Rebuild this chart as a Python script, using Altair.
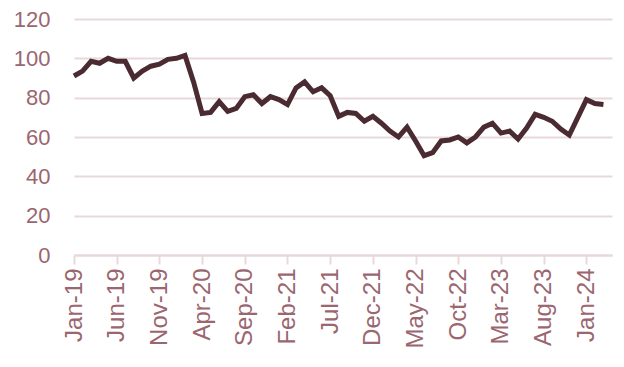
import altair as alt
import pandas as pd

months = ["Jan", "Feb", "Mar", "Apr", "May", "Jun", "Jul", "Aug", "Sep", "Oct", "Nov", "Dec"]
labels = [f"{m}-{y}" for y in ["19", "20", "21", "22", "23", "24"] for m in months][:63]

values = [
    91, 93.5, 98.5, 97.5, 100, 98.5, 98.5, 90, 93.5, 96, 97, 99.5,
    100, 101.5, 88, 72, 72.5, 78, 73, 74.5, 80.5, 81.5, 77, 80.5,
    79, 76.5, 85, 88, 83, 85, 81, 70.5, 72.5, 72, 68, 70.5,
    67, 63, 60, 65, 58, 50.5, 52, 58, 58.5, 60, 57, 60,
    65, 67, 62, 63, 59, 64.5, 71.5, 70, 68, 64, 61, 70,
    79, 77, 76.5,
]
y_ticks = [0, 20, 40, 60, 80, 100, 120]
x_tick_idx = list(range(0, 61, 5))

df = pd.DataFrame({"idx": list(range(len(values))), "label": labels, "value": values})

label_arr = "[" + ",".join(f"'{l}'" for l in labels) + "]"

label_color = "#9a6670"
grid_color = "#e8d8dc"
font = "Liberation Sans"

chart = alt.Chart(df).mark_line(color="#4a2b31", strokeWidth=5, strokeJoin="miter").encode(
    x=alt.X("idx:Q",
            scale=alt.Scale(domain=[0, 63], nice=False, zero=False),
            axis=alt.Axis(values=x_tick_idx, labelExpr=f"{label_arr}[datum.value]",
                          labelAngle=270, labelAlign="right", labelBaseline="middle",
                          labelFontSize=24, labelColor=label_color, labelFont=font,
                          labelPadding=4, tickSize=9, tickColor=grid_color, tickWidth=2,
                          domainColor=grid_color, domainWidth=2, grid=False, title=None,
                          labelOverlap=False)),
    y=alt.Y("value:Q",
            scale=alt.Scale(domain=[0, 120], nice=False),
            axis=alt.Axis(values=y_ticks, labelFontSize=22, labelColor=label_color,
                          labelFont=font, labelPadding=24, ticks=False, domain=False,
                          gridColor=grid_color, gridWidth=2, title=None)),
).properties(
    width=538, height=236,
    autosize=alt.AutoSizeParams(type="none"),
    padding={"left": 66, "top": 11, "right": 4, "bottom": 104},
).configure_view(stroke=None)

chart.save("out.html", embed_options={"renderer": "svg", "actions": False})
